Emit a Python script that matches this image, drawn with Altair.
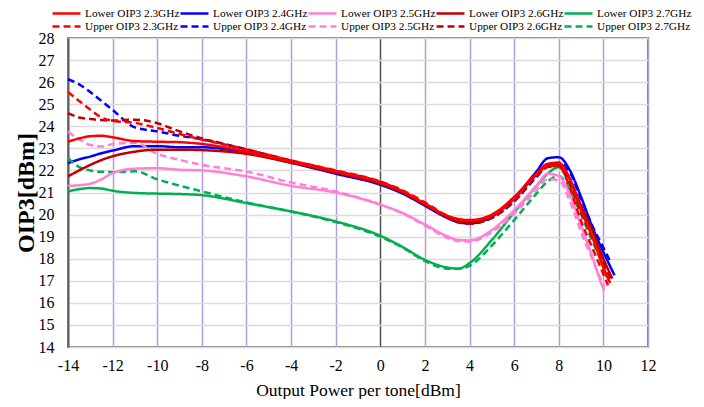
import altair as alt
import pandas as pd

# Common x grid (Output Power per tone, dBm)
x_grid = [-14, -13.5, -13, -12.5, -12, -11, -10, -9, -8, -6, -4, -2, 0, 1, 2, 3, 3.5, 4,
          5, 6, 7, 7.5, 8, 8.5, 9, 9.5, 10]

legend_order = ["Lower OIP3 2.3GHz", "Lower OIP3 2.4GHz", "Lower OIP3 2.5GHz",
                "Lower OIP3 2.6GHz", "Lower OIP3 2.7GHz",
                "Upper OIP3 2.3GHz", "Upper OIP3 2.4GHz", "Upper OIP3 2.5GHz",
                "Upper OIP3 2.6GHz", "Upper OIP3 2.7GHz"]
colors = ["#ff0000", "#0000ff", "#ff80d5", "#c00000", "#00b050",
          "#ff0000", "#0000ff", "#ff80d5", "#c00000", "#00b050"]
dashes = [[1, 0]] * 5 + [[7, 4]] * 5

lower_23 = [23.3, 23.45, 23.55, 23.57, 23.5, 23.33, 23.3, 23.28, 23.2, 22.85, 22.4, 21.95, 21.45, 21.05,
            20.5, 19.95, 19.8, 19.75, 20.0, 20.8, 21.85, 22.3, 22.35, 21.6, 20.2, 19.0, 17.6]
upper_23 = [25.55, 25.15, 24.75, 24.4, 24.25, 24.15, 23.92, 23.65, 23.4, 22.95, 22.45, 22.0, 21.5, 21.1,
            20.55, 19.95, 19.78, 19.72, 19.95, 20.7, 21.8, 22.2, 22.2, 21.2, 19.7, 18.5, 17.3]
lower_24 = [22.33, 22.5, 22.63, 22.78, 22.9, 23.1, 23.1, 23.05, 23.05, 22.8, 22.35, 21.85, 21.35, 20.95,
            20.4, 19.85, 19.65, 19.6, 19.9, 20.75, 21.95, 22.55, 22.6, 22.0, 20.8, 19.45, 18.3]
upper_24 = [26.13, 25.9, 25.55, 25.15, 24.74, 23.95, 23.77, 23.57, 23.42, 22.95, 22.4, 21.9, 21.4, 21.0,
            20.45, 19.9, 19.68, 19.6, 19.85, 20.6, 21.7, 22.2, 22.35, 21.9, 20.7, 19.5, 18.5]
lower_25 = [21.3, 21.33, 21.4, 21.6, 21.88, 22.08, 22.1, 22.03, 22.0, 21.73, 21.3, 21.0, 20.45, 20.07,
            19.55, 19.02, 18.85, 18.83, 19.3, 20.2, 21.3, 21.85, 21.75, 20.9, 19.5, 18.1, 16.65]
upper_25 = [23.76, 23.4, 23.15, 23.08, 23.2, 23.25, 22.75, 22.48, 22.25, 21.95, 21.45, 21.05, 20.45, 20.05,
            19.5, 18.95, 18.8, 18.78, 19.2, 20.05, 21.1, 21.6, 21.55, 20.6, 19.2, 18.0, 16.8]
lower_26 = [21.73, 22.0, 22.25, 22.47, 22.64, 22.85, 22.94, 22.94, 22.92, 22.75, 22.35, 21.9, 21.4, 21.0,
            20.45, 19.9, 19.7, 19.65, 19.95, 20.75, 21.85, 22.25, 22.3, 21.6, 20.4, 19.3, 18.0]
upper_26 = [24.6, 24.4, 24.33, 24.28, 24.26, 24.3, 24.14, 23.77, 23.45, 22.95, 22.45, 21.98, 21.48, 21.05,
            20.45, 19.85, 19.65, 19.58, 19.85, 20.6, 21.75, 22.15, 22.2, 21.4, 20.1, 18.95, 17.8]
lower_27 = [21.05, 21.15, 21.2, 21.18, 21.08, 20.98, 20.95, 20.93, 20.88, 20.52, 20.14, 19.69, 19.04, 18.53,
            17.95, 17.6, 17.55, 17.8, 18.85, 20.1, 21.3, 21.85, 22.15, 21.3, 20.2, 19.0, 17.7]
upper_27 = [22.56, 22.15, 22.0, 21.94, 21.92, 21.96, 21.6, 21.31, 21.05, 20.55, 20.14, 19.66, 19.0, 18.5,
            17.9, 17.55, 17.55, 17.68, 18.6, 19.75, 20.95, 21.5, 21.75, 21.1, 20.0, 18.8, 17.6]

# last measured point of each series
end_x = {"Lower OIP3 2.3GHz": 10.3, "Upper OIP3 2.3GHz": 10.2, "Lower OIP3 2.4GHz": 10.5,
         "Upper OIP3 2.4GHz": 10.3, "Lower OIP3 2.5GHz": 10.05, "Upper OIP3 2.5GHz": 10.05,
         "Lower OIP3 2.6GHz": 10.4, "Upper OIP3 2.6GHz": 10.35, "Lower OIP3 2.7GHz": 10.15,
         "Upper OIP3 2.7GHz": 10.1}
end_y = {"Lower OIP3 2.3GHz": 16.9, "Upper OIP3 2.3GHz": 16.8, "Lower OIP3 2.4GHz": 17.25,
         "Upper OIP3 2.4GHz": 17.9, "Lower OIP3 2.5GHz": 16.55, "Upper OIP3 2.5GHz": 16.7,
         "Lower OIP3 2.6GHz": 17.1, "Upper OIP3 2.6GHz": 17.0, "Lower OIP3 2.7GHz": 17.15,
         "Upper OIP3 2.7GHz": 17.25}

# drawing order (bottom to top)
series_values = [
    ("Lower OIP3 2.4GHz", lower_24), ("Upper OIP3 2.4GHz", upper_24),
    ("Lower OIP3 2.7GHz", lower_27), ("Upper OIP3 2.7GHz", upper_27),
    ("Lower OIP3 2.5GHz", lower_25), ("Upper OIP3 2.5GHz", upper_25),
    ("Lower OIP3 2.6GHz", lower_26), ("Upper OIP3 2.6GHz", upper_26),
    ("Lower OIP3 2.3GHz", lower_23), ("Upper OIP3 2.3GHz", upper_23),
]

rows = []
for name, vals in series_values:
    xs = x_grid + [end_x[name]]
    ys = vals + [end_y[name]]
    for i, (xv, yv) in enumerate(zip(xs, ys)):
        rows.append({"series": name, "x": xv, "y": yv, "i": i})
df = pd.DataFrame(rows)

FONT = "Liberation Serif"

# wide, flat custom legend stroke (scaled by sqrt(size)/2 = 6 -> 28px long)
legend_kw = dict(title=None, orient="none", legendX=-9, legendY=-32, direction="horizontal",
                 columns=5, symbolType="M-2.33,0H2.33", symbolSize=144, symbolStrokeWidth=2.5,
                 symbolFillColor="transparent",
                 labelFont=FONT, labelFontSize=11.3, labelColor="#000", labelOffset=11,
                 columnPadding=-5, rowPadding=0, labelLimit=200)

chart = alt.Chart(df).mark_line(strokeWidth=2.5, interpolate="monotone").encode(
    x=alt.X("x:Q", scale=alt.Scale(domain=[-14, 12], nice=False),
            axis=alt.Axis(values=list(range(-14, 13, 2)), title="Output Power per tone[dBm]",
                          labelExpr="'' + datum.value", labelFlush=False,
                          grid=True,
                          gridColor={"condition": {"test": "datum.value === 0", "value": "#505050"},
                                     "value": "#b49cdc"},
                          gridWidth=1.5, ticks=False, domain=False,
                          labelFont=FONT, labelFontSize=16, labelColor="#000", labelPadding=10,
                          titleFont=FONT, titleFontSize=17.5, titleFontWeight="normal",
                          titleColor="#000", titlePadding=8)),
    y=alt.Y("y:Q", scale=alt.Scale(domain=[14, 28], nice=False),
            axis=alt.Axis(values=list(range(14, 29)), title="OIP3[dBm]", grid=True,
                          labelExpr="'' + datum.value", labelFlush=False,
                          gridColor="#dcdcdc", gridWidth=1.5, ticks=False,
                          domainColor="#606060", domainWidth=2,
                          labelFont=FONT, labelFontSize=16, labelColor="#000", labelPadding=14,
                          titleFont=FONT, titleFontSize=24, titleFontWeight="bold",
                          titleColor="#000", titlePadding=0)),
    color=alt.Color("series:N", scale=alt.Scale(domain=legend_order, range=colors),
                    legend=alt.Legend(**legend_kw)),
    strokeDash=alt.StrokeDash("series:N", scale=alt.Scale(domain=legend_order, range=dashes),
                              legend=alt.Legend(**legend_kw)),
    order=alt.Order("i:Q"),
).properties(
    width=580, height=309,
    autosize=alt.AutoSizeParams(type="none"),
    padding={"left": 60, "top": 30, "right": 48, "bottom": 52},
).configure(
    background="white", font=FONT
).configure_axis(
    labelFont=FONT, titleFont=FONT
).configure_legend(
    labelFont=FONT
).configure_view(stroke="#808080", strokeWidth=2)

chart.save("out.html", embed_options={"renderer": "svg", "actions": False})
